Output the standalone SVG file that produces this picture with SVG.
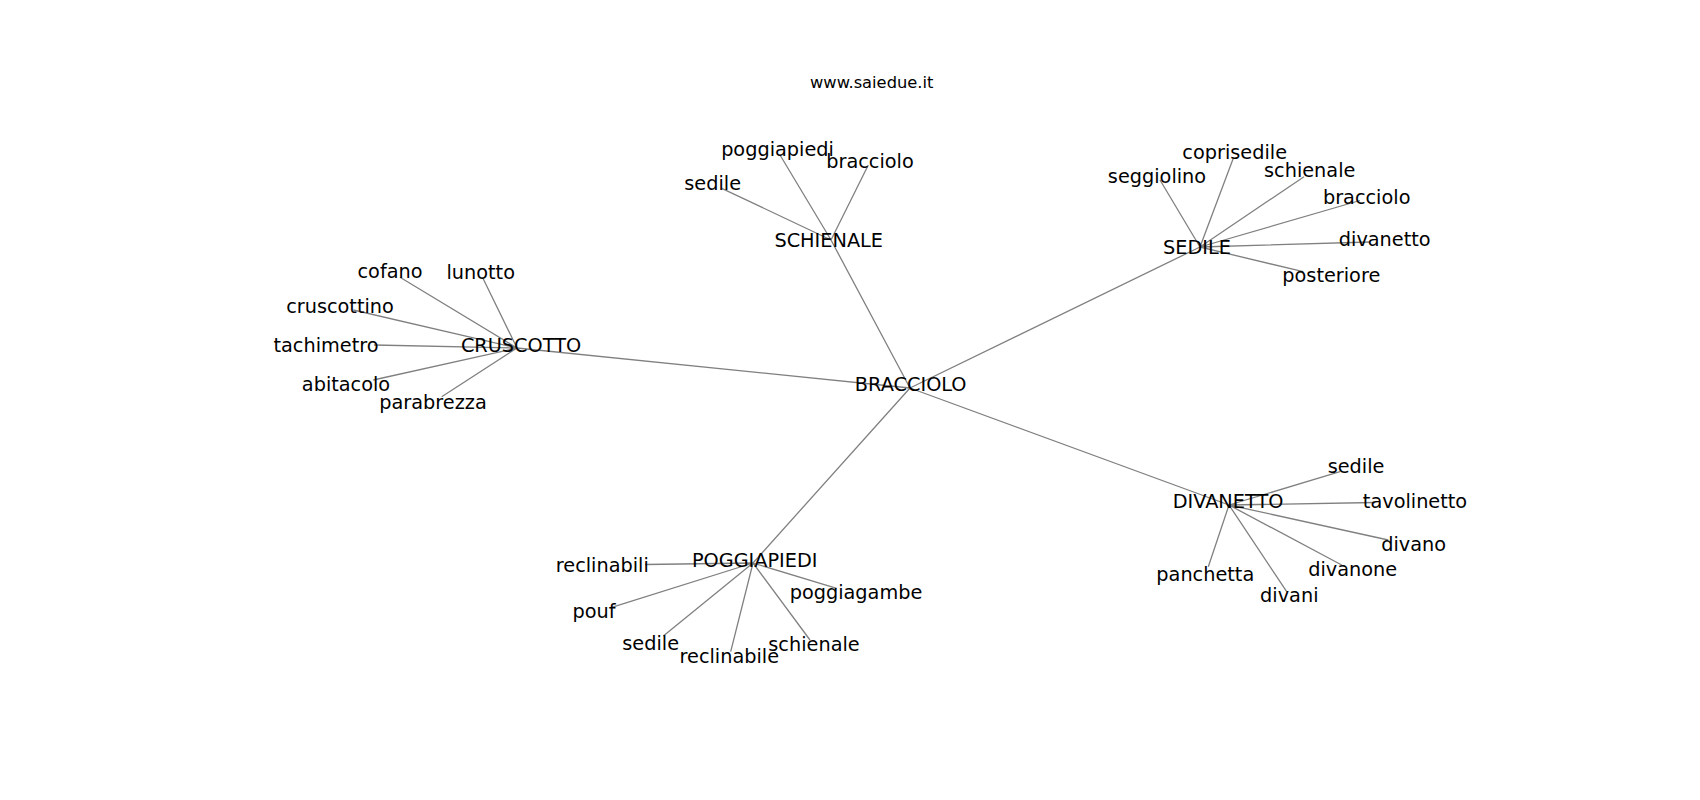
<svg xmlns="http://www.w3.org/2000/svg" width="1700" height="800" viewBox="0 0 1700 800">
<style>
.e{stroke:#808080;stroke-width:1.3;fill:none}
text{font-family:"DejaVu Sans",sans-serif;font-size:19.3px;fill:#000;text-anchor:middle}
.t{font-size:16.3px}
</style>
<rect width="1700" height="800" fill="#fff"/>
<g id="connectors">
<path class="e" d="M910 388L831 240M910 388L1200 247M910 388L517 348M910 388L753 563M910 388L1229 505"/>
<path class="e" d="M831 240L721.7 188.3M831 240L780 155M831 240L868.3 165"/>
<path class="e" d="M1200 247L1233.3 158.3M1200 247L1160 180M1200 247L1304 176.7M1200 247L1360 200.5M1200 247L1370 242M1200 247L1303.3 271.7"/>
<path class="e" d="M1229 505L1340 471.7M1229 505L1375 502.5M1229 505L1388.3 540M1229 505L1341.7 565M1229 505L1208.3 566.7M1229 505L1286.7 591.7"/>
<path class="e" d="M753 563L645 564.5M753 563L611.7 607.3M753 563L663.3 636M753 563L730.7 651.7M753 563L810 640M753 563L836.7 588.3"/>
<path class="e" d="M517 348L400 277.3M517 348L482.7 277.7M517 348L353.3 310M517 348L374 345M517 348L373.3 380M517 348L441.7 396.7"/>
</g>
<text class="t" x="871.7" y="87.5">www.saiedue.it</text>
<g id="n-bracciolo-hub"><text x="910.7" y="390.5">BRACCIOLO</text></g>
<g id="n-schienale-hub"><text x="828.7" y="247">SCHIENALE</text></g>
<g id="n-schienale-sedile"><text x="712.7" y="190">sedile</text></g>
<g id="n-schienale-poggiapiedi"><text x="777.5" y="156">poggiapiedi</text></g>
<g id="n-schienale-bracciolo"><text x="870" y="168">bracciolo</text></g>
<g id="n-sedile-hub"><text x="1197" y="254">SEDILE</text></g>
<g id="n-sedile-coprisedile"><text x="1234.7" y="159">coprisedile</text></g>
<g id="n-sedile-seggiolino"><text x="1157" y="183">seggiolino</text></g>
<g id="n-sedile-schienale"><text x="1309.7" y="177">schienale</text></g>
<g id="n-sedile-bracciolo"><text x="1366.7" y="204">bracciolo</text></g>
<g id="n-sedile-divanetto"><text x="1384.7" y="246">divanetto</text></g>
<g id="n-sedile-posteriore"><text x="1331.3" y="282">posteriore</text></g>
<g id="n-divanetto-hub"><text x="1228" y="508">DIVANETTO</text></g>
<g id="n-divanetto-sedile"><text x="1356" y="472.5">sedile</text></g>
<g id="n-divanetto-tavolinetto"><text x="1415" y="508">tavolinetto</text></g>
<g id="n-divanetto-divano"><text x="1413.7" y="551">divano</text></g>
<g id="n-divanetto-divanone"><text x="1352.7" y="576">divanone</text></g>
<g id="n-divanetto-panchetta"><text x="1205.3" y="581">panchetta</text></g>
<g id="n-divanetto-divani"><text x="1289.3" y="601.5">divani</text></g>
<g id="n-poggiapiedi-hub"><text x="754.7" y="566.5">POGGIAPIEDI</text></g>
<g id="n-poggiapiedi-reclinabili"><text x="602.3" y="571.5">reclinabili</text></g>
<g id="n-poggiapiedi-pouf"><text x="594" y="618">pouf</text></g>
<g id="n-poggiapiedi-sedile"><text x="650.7" y="650">sedile</text></g>
<g id="n-poggiapiedi-reclinabile"><text x="729.3" y="663">reclinabile</text></g>
<g id="n-poggiapiedi-schienale"><text x="814" y="651">schienale</text></g>
<g id="n-poggiapiedi-poggiagambe"><text x="856" y="599">poggiagambe</text></g>
<g id="n-cruscotto-hub"><text x="521" y="351.5">CRUSCOTTO</text></g>
<g id="n-cruscotto-cofano"><text x="390" y="278">cofano</text></g>
<g id="n-cruscotto-lunotto"><text x="480.7" y="279">lunotto</text></g>
<g id="n-cruscotto-cruscottino"><text x="340" y="312.5">cruscottino</text></g>
<g id="n-cruscotto-tachimetro"><text x="326" y="351.5">tachimetro</text></g>
<g id="n-cruscotto-abitacolo"><text x="346" y="391">abitacolo</text></g>
<g id="n-cruscotto-parabrezza"><text x="433" y="409">parabrezza</text></g>
</svg>
